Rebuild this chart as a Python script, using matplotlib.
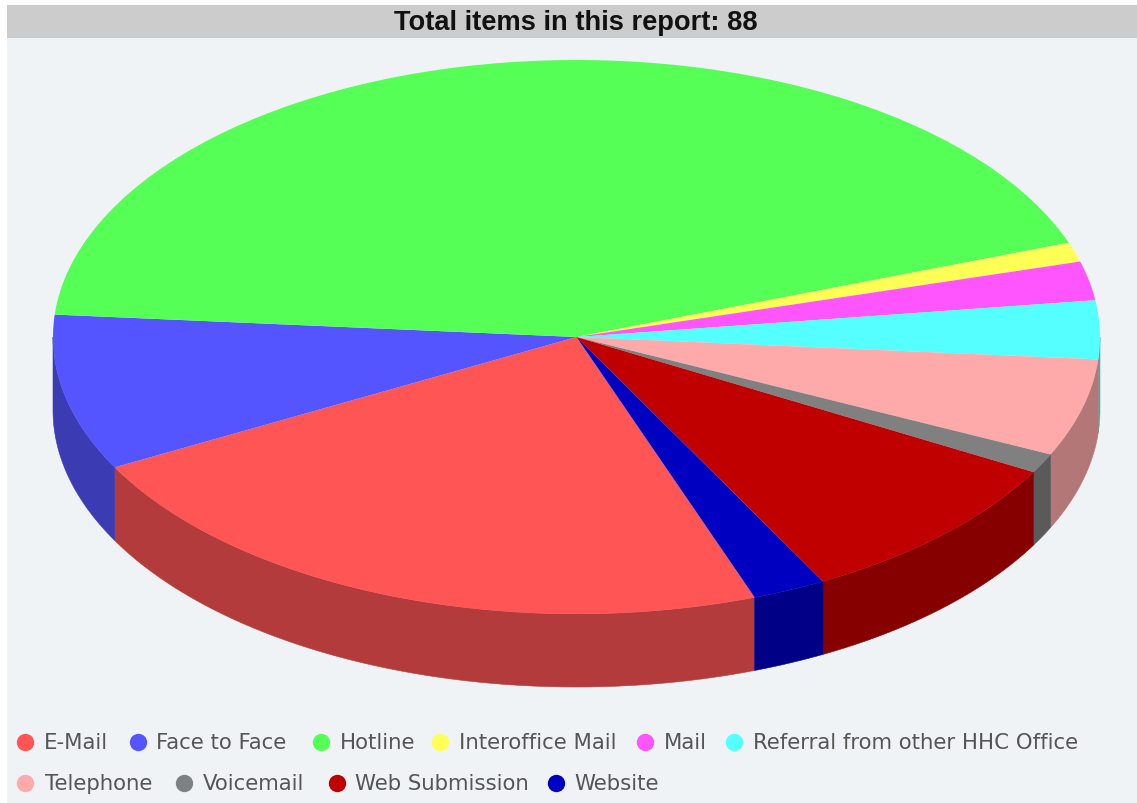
import numpy as np
import matplotlib
matplotlib.use("Agg")
import matplotlib.pyplot as plt
from matplotlib.patches import Rectangle
from matplotlib.colors import to_rgb

# values (88 items in total)
categories = ["E-Mail", "Face to Face", "Hotline", "Interoffice Mail", "Mail",
              "Referral from other HHC Office", "Telephone", "Voicemail",
              "Web Submission", "Website"]
counts = [20, 8, 38, 1, 2, 3, 5, 1, 8, 2]
colors = ["#FF5555", "#5555FF", "#55FF55", "#FFFF55", "#FF55FF",
          "#55FFFF", "#FFAAAA", "#808080", "#C00000", "#0000C0"]
title = "Total items in this report: 88"

# layout, all in pixels of the 1137x804 picture
W, H = 1137, 804
cx, cy, rx, ry = 576.5, 338, 523.5, 277
depth = 73
start_angle = -70.1
marker_x = [25, 138, 321, 440, 645, 734, 25, 184, 337, 556]
label_x = [44, 156, 340, 459, 664, 753, 45, 203, 355, 574]
row_y = [743, 743, 743, 743, 743, 743, 784, 784, 784, 784]

fig = plt.figure(figsize=(W / 100, H / 100), dpi=100, facecolor="white")

# background, title bar and legend
chrome = fig.add_axes([0, 0, 1, 1], zorder=0)
chrome.set_xlim(0, W)
chrome.set_ylim(H, 0)
chrome.axis("off")
chrome.add_patch(Rectangle((7, 39), W - 7, H - 39, facecolor="#EFF3F5", edgecolor="none"))
chrome.add_patch(Rectangle((7, 6), W - 7, 33, facecolor="#CCCCCC", edgecolor="none"))
chrome.text(575.5, 23, title, ha="center", va="center", color="#111111",
            fontsize=19.6, fontweight="bold", family="Liberation Sans")

for name, color, mx, lx, y in zip(categories, colors, marker_x, label_x, row_y):
    chrome.plot([mx], [y], "o", color=color, markersize=12.5, markeredgewidth=0)
    chrome.text(lx, y, name, ha="left", va="center", color="#555555",
                fontsize=15.3, family="DejaVu Sans")

# pie: radius 1 in data units, the axes squashes it to an ellipse
ax = fig.add_axes([(cx - rx) / W, (H - cy - ry) / H, 2 * rx / W, 2 * ry / H], zorder=1)
ax.patch.set_alpha(0)

# side walls, one per slice, only the part on the front half of the rim
d = depth / ry
angles = start_angle - np.cumsum([0] + counts) / sum(counts) * 360
for i, color in enumerate(colors):
    a1, a0 = angles[i], angles[i + 1]  # a0 < a1, clockwise
    # move to the range where the front half is -180..0
    while a1 > 0 and a0 > 0:
        a0 -= 360
        a1 -= 360
    while a0 < -360:
        a0 += 360
        a1 += 360
    lo, hi = max(a0, -180), min(a1, 0)
    if hi <= lo:
        continue
    t = np.radians(np.linspace(lo, hi, 120))
    xs = np.cos(t)
    ys = np.sin(t)
    dark = tuple(c * 0.7 for c in to_rgb(color))
    ax.fill(np.r_[xs, xs[::-1]], np.r_[ys, ys[::-1] - d], color=dark,
            linewidth=0.4, clip_on=False)

wedges, _ = ax.pie(counts, colors=colors, startangle=start_angle, counterclock=False,
                   radius=1, wedgeprops={"linewidth": 0})
ax.set_aspect("auto")
ax.set_xlim(-1, 1)
ax.set_ylim(-1, 1)
ax.axis("off")

fig.savefig("out.png", dpi=100, facecolor="white")
